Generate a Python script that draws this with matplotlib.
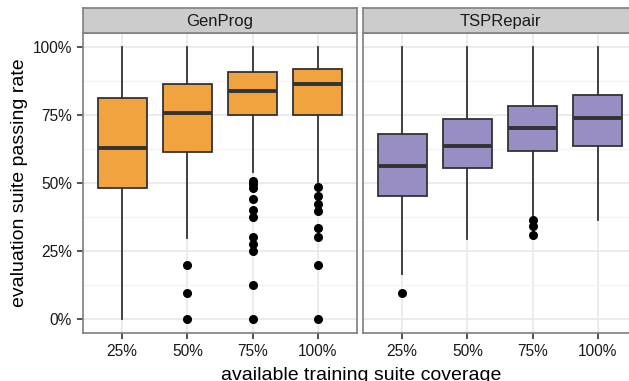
import matplotlib
matplotlib.use("Agg")
import matplotlib.pyplot as plt
from matplotlib.ticker import FixedLocator

plt.rcParams['font.family'] = ['Liberation Sans', 'DejaVu Sans']

# --- data (percent) ---
coverage = ["25%", "50%", "75%", "100%"]
panels = ["GenProg", "TSPRepair"]

genprog_lo  = [0.0, 30.0, 54.0, 50.5]
genprog_q1  = [48.0, 61.5, 75.0, 75.0]
genprog_med = [63.0, 75.8, 83.8, 86.3]
genprog_q3  = [81.3, 86.2, 90.8, 91.8]
genprog_hi  = [100.0, 100.0, 100.0, 100.0]
genprog_out = [
    [],
    [20.1, 9.8, 0.0],
    [50.7, 49.5, 48.2, 44.3, 40.0, 37.6, 30.1, 27.5, 25.0, 12.5, 0.0],
    [48.5, 45.4, 42.4, 39.9, 33.6, 30.1, 20.1, 0.0],
]

tsp_lo  = [16.8, 29.3, 37.8, 36.6]
tsp_q1  = [45.4, 55.6, 61.6, 63.7]
tsp_med = [56.2, 63.4, 70.2, 73.9]
tsp_q3  = [67.8, 73.6, 78.4, 82.4]
tsp_hi  = [100.0, 100.0, 100.0, 100.0]
tsp_out = [[9.8], [], [36.6, 34.4, 31.1], []]

COLORS = ["#F1A340", "#998EC3"]
EDGE = "#333333"
W, H = 629, 381


def stats(lo, q1, med, q3, hi, out):
    return [dict(whislo=a, q1=b, med=c, q3=d, whishi=e, fliers=f)
            for a, b, c, d, e, f in zip(lo, q1, med, q3, hi, out)]


series = [
    stats(genprog_lo, genprog_q1, genprog_med, genprog_q3, genprog_hi, genprog_out),
    stats(tsp_lo, tsp_q1, tsp_med, tsp_q3, tsp_hi, tsp_out),
]

fig = plt.figure(figsize=(W / 100, H / 100), dpi=100)

# panel geometry in pixels (left, top, width, height)
pan_left = [83, 363]
pan_top, pan_w, pan_h = 33, 274, 300
strip_h = 25

for i, (name, st) in enumerate(zip(panels, series)):
    l = pan_left[i]
    ax = fig.add_axes([l / W, (H - pan_top - pan_h) / H, pan_w / W, pan_h / H])
    ax.set_xlim(0.4, 4.6)
    ax.set_ylim(-5, 105)
    ax.set_axisbelow(True)

    # grid (ggplot theme_bw look)
    ax.yaxis.set_major_locator(FixedLocator([0, 25, 50, 75, 100]))
    ax.yaxis.set_minor_locator(FixedLocator([12.5, 37.5, 62.5, 87.5]))
    ax.grid(which="major", color="#E8E8E8", lw=1.2)
    ax.grid(which="minor", axis="y", color="#F3F3F3", lw=1.0)

    ax.bxp(st, positions=range(1, 5), widths=0.75, patch_artist=True,
           showcaps=False, manage_ticks=False,
           boxprops=dict(facecolor=COLORS[i], edgecolor=EDGE, lw=1.3),
           medianprops=dict(color=EDGE, lw=2.8),
           whiskerprops=dict(color=EDGE, lw=1.3),
           flierprops=dict(marker="o", markerfacecolor="black",
                           markeredgecolor="black", markersize=5.5, lw=0))

    ax.set_xticks(range(1, 5))
    ax.set_xticklabels(coverage)
    ax.tick_params(axis="both", which="major", length=4.5, width=1.2,
                   color="#333333", labelsize=11.2, labelcolor="#1A1A1A", pad=3.5)
    ax.tick_params(which="minor", length=0)
    if i == 0:
        ax.set_yticklabels(["0%", "25%", "50%", "75%", "100%"])
    else:
        ax.tick_params(axis="y", left=False, labelleft=False)

    for sp in ax.spines.values():
        sp.set_color("#7F7F7F")
        sp.set_linewidth(1.2)

    # facet strip
    sx = fig.add_axes([l / W, (H - pan_top) / H, pan_w / W, strip_h / H])
    sx.set_facecolor("#CCCCCC")
    sx.set_xticks([])
    sx.set_yticks([])
    for sp in sx.spines.values():
        sp.set_color("#7F7F7F")
        sp.set_linewidth(1.2)
    sx.text(0.5, 0.45, name, ha="center", va="center", fontsize=12,
            color="#1A1A1A", transform=sx.transAxes)

fig.text(361 / W, 1 / H, "available training suite coverage",
         ha="center", va="baseline", fontsize=14, color="black")
fig.text(24.5 / W, (H - 183) / H, "evaluation suite passing rate",
         ha="center", va="baseline", rotation=90, rotation_mode="anchor",
         fontsize=14, color="black")

fig.savefig("out.png", dpi=100)
